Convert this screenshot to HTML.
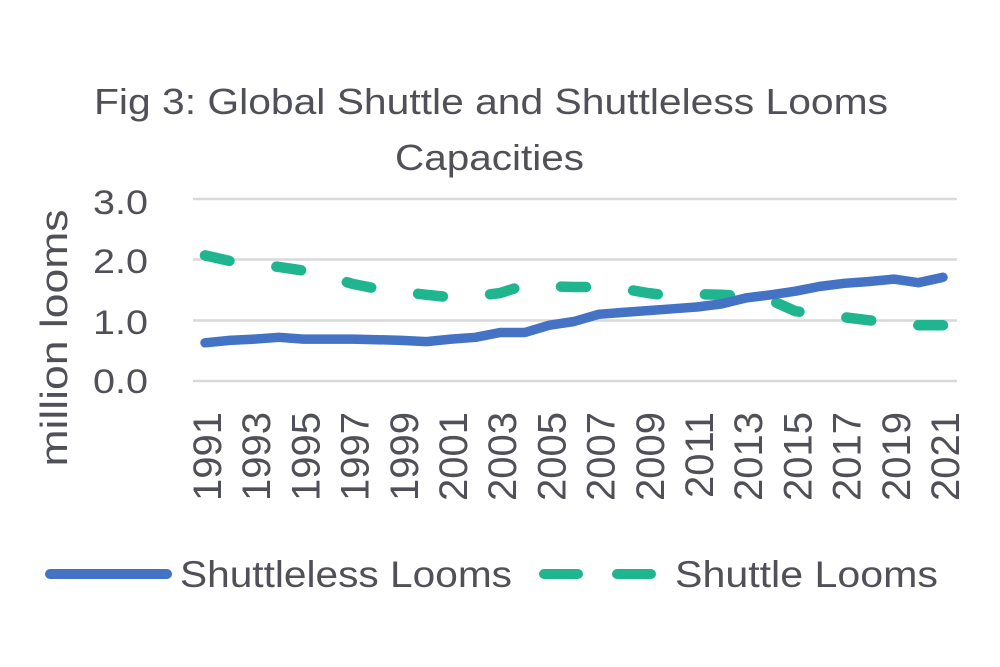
<!DOCTYPE html>
<html>
<head>
<meta charset="utf-8">
<style>
  html, body { margin: 0; padding: 0; background: #ffffff; }
  svg { display: block; }
  text { font-family: "Liberation Sans", "DejaVu Sans", sans-serif; fill: #505058; }
</style>
</head>
<body>
<svg width="1000" height="667" viewBox="0 0 1000 667" xmlns="http://www.w3.org/2000/svg">
  <rect width="1000" height="667" fill="#ffffff"/>

  <!-- Title -->
  <text x="94" y="114" font-size="36" textLength="794" lengthAdjust="spacingAndGlyphs">Fig 3: Global Shuttle and Shuttleless Looms</text>
  <text x="395" y="170" font-size="36" textLength="189" lengthAdjust="spacingAndGlyphs">Capacities</text>

  <!-- Gridlines -->
  <g stroke="#d9d9d9" stroke-width="2.5">
    <line x1="193" y1="199" x2="957" y2="199"/>
    <line x1="193" y1="259.5" x2="957" y2="259.5"/>
    <line x1="193" y1="320.5" x2="957" y2="320.5"/>
    <line x1="193" y1="381" x2="957" y2="381"/>
  </g>

  <!-- Y tick labels -->
  <g font-size="34" text-anchor="end">
    <text x="148" y="214" textLength="55" lengthAdjust="spacingAndGlyphs">3.0</text>
    <text x="148" y="273" textLength="55" lengthAdjust="spacingAndGlyphs">2.0</text>
    <text x="148" y="334" textLength="55" lengthAdjust="spacingAndGlyphs">1.0</text>
    <text x="148" y="393" textLength="55" lengthAdjust="spacingAndGlyphs">0.0</text>
  </g>

  <!-- Y axis title -->
  <text transform="translate(67,338) rotate(-90)" text-anchor="middle" font-size="38" textLength="257" lengthAdjust="spacingAndGlyphs">million looms</text>

  <!-- X tick labels -->
  <g font-size="40" text-anchor="end">
    <text transform="translate(221,412) rotate(-90)">1991</text>
    <text transform="translate(270.2,412) rotate(-90)">1993</text>
    <text transform="translate(319.4,412) rotate(-90)">1995</text>
    <text transform="translate(368.6,412) rotate(-90)">1997</text>
    <text transform="translate(417.8,412) rotate(-90)">1999</text>
    <text transform="translate(467,412) rotate(-90)">2001</text>
    <text transform="translate(516.2,412) rotate(-90)">2003</text>
    <text transform="translate(565.4,412) rotate(-90)">2005</text>
    <text transform="translate(614.6,412) rotate(-90)">2007</text>
    <text transform="translate(663.8,412) rotate(-90)">2009</text>
    <text transform="translate(713,412) rotate(-90)">2011</text>
    <text transform="translate(762.2,412) rotate(-90)">2013</text>
    <text transform="translate(811.4,412) rotate(-90)">2015</text>
    <text transform="translate(860.6,412) rotate(-90)">2017</text>
    <text transform="translate(909.8,412) rotate(-90)">2019</text>
    <text transform="translate(959,412) rotate(-90)">2021</text>
  </g>

  <!-- Shuttle Looms (dashed) -->
  <polyline fill="none" stroke="#1fb58f" stroke-width="10.5" stroke-linecap="round" stroke-linejoin="round"
    stroke-dasharray="25 47.3"
    points="205,255.4 229.6,260.9 254.2,264.5 278.8,266.9 303.4,270.6 328,276.6 352.6,283.9 377.2,288.8 401.8,291.8 426.4,294.8 451,297.3 475.6,296.1 500.2,293 524.8,285.1 549.4,286.4 574,287 598.6,287 623.2,288.8 647.8,293 672.4,296.1 697,294.2 721.6,294.8 746.2,296.1 770.8,300.3 795.4,311.2 820,314.3 844.6,317.3 869.2,320.3 893.8,322.8 918.4,325.2 943,325.2"/>

  <!-- Shuttleless Looms (solid) -->
  <polyline fill="none" stroke="#4472c4" stroke-width="9.5" stroke-linecap="round" stroke-linejoin="round"
    points="205,342.8 229.6,340.4 254.2,339.1 278.8,337.3 303.4,339.1 328,339.1 352.6,339.1 377.2,339.7 401.8,340.4 426.4,341.6 451,339.1 475.6,337.3 500.2,332.5 524.8,332.5 549.4,325.2 574,321.5 598.6,314.3 623.2,312.4 647.8,310.6 672.4,308.8 697,307 721.6,303.9 746.2,297.9 770.8,294.8 795.4,291.2 820,286.4 844.6,283.3 869.2,281.5 893.8,279.1 918.4,282.7 943,277.3"/>

  <!-- Legend -->
  <line x1="50" y1="574" x2="167" y2="574" stroke="#4472c4" stroke-width="10" stroke-linecap="round"/>
  <text x="180" y="587" font-size="37" textLength="332" lengthAdjust="spacingAndGlyphs">Shuttleless Looms</text>
  <line x1="544" y1="574" x2="578" y2="574" stroke="#1fb58f" stroke-width="10" stroke-linecap="round"/>
  <line x1="617" y1="574" x2="651" y2="574" stroke="#1fb58f" stroke-width="10" stroke-linecap="round"/>
  <text x="675" y="587" font-size="37" textLength="263" lengthAdjust="spacingAndGlyphs">Shuttle Looms</text>
</svg>
</body>
</html>
